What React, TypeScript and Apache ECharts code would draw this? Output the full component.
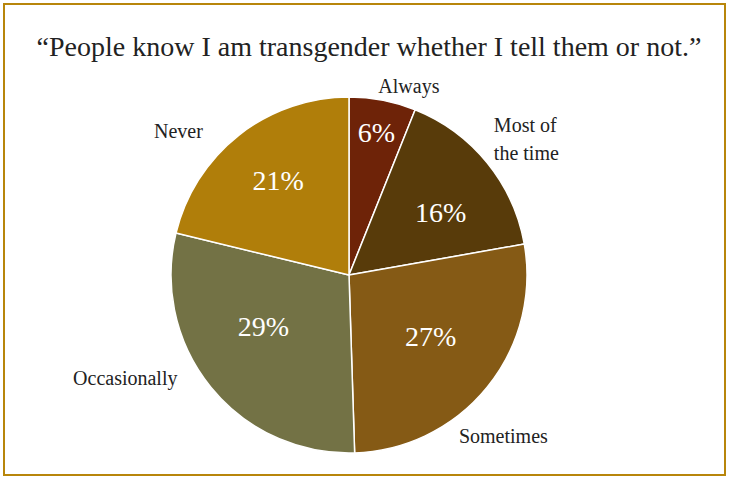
import React, { useEffect, useRef } from "react";
import * as echarts from "echarts";

const categories = ["Always", "Most of\nthe time", "Sometimes", "Occasionally", "Never"];
const values = [6, 16, 27, 29, 21];
const colors = ["#6E2308", "#583B0A", "#855A15", "#737245", "#B07E0A"];
const title = "\u201cPeople know I am transgender whether I tell them or not.\u201d";

// per-slice label line lengths (layout styling of the outside name labels)
const nameLineLen = [14, 37, 77, -15, 5];
const nameLineLen2 = [-12, -27, -93, 40, 28];
// per-slice nudges of the percentage labels
const pctShift = [
  [5, -27],
  [0, 12],
  [-10, -13],
  [6, -23],
  [2, -2],
];

export default function App() {
  const ref = useRef<HTMLDivElement>(null);
  useEffect(() => {
    if (!ref.current) return;
    const chart = echarts.init(ref.current, null, { renderer: "svg" });
    const data = categories.map((name, i) => ({
      name,
      value: values[i],
      itemStyle: { color: colors[i] },
      labelLine: { show: false, length: nameLineLen[i], length2: nameLineLen2[i] },
    }));
    const font = "'Liberation Serif', 'DejaVu Serif', serif";
    chart.setOption({
      animation: false,
      backgroundColor: "#fff",
      title: {
        text: title,
        left: 364,
        top: 27,
        textAlign: "center",
        textStyle: { fontFamily: font, fontSize: 28, fontWeight: "normal", color: "#222" },
      },
      graphic: [
        {
          type: "rect",
          shape: { x: 4, y: 4, width: 721, height: 471 },
          style: { fill: "none", stroke: "#B8860B", lineWidth: 2 },
          silent: true,
        },
      ],
      series: [
        {
          type: "pie",
          center: [349, 275],
          radius: [0, 178],
          startAngle: 90,
          clockwise: true,
          data,
          itemStyle: { borderColor: "#fff", borderWidth: 1.5 },
          label: {
            show: true,
            position: "outside",
            fontFamily: font,
            fontSize: 20,
            color: "#222",
            lineHeight: 28,
            formatter: "{b}",
          },
          labelLine: { show: false },
          emphasis: { disabled: true },
        },
        {
          type: "pie",
          center: [349, 275],
          radius: [0, 230],
          startAngle: 90,
          clockwise: true,
          silent: true,
          data: categories.map((name, i) => ({ name, value: values[i] })),
          itemStyle: { color: "rgba(0,0,0,0)", borderWidth: 0 },
          label: {
            show: true,
            position: "inside",
            fontFamily: font,
            fontSize: 28,
            color: "#fff",
            formatter: "{c}%",
          },
          labelLayout: (p: any) => ({
            dx: pctShift[p.dataIndex][0],
            dy: pctShift[p.dataIndex][1],
          }),
          labelLine: { show: false },
          emphasis: { disabled: true },
        },
      ],
    });
    return () => chart.dispose();
  }, []);
  return (
    <div
      ref={ref}
      style={{ position: "fixed", left: 0, top: 0, width: 729, height: 477 }}
    />
  );
}
